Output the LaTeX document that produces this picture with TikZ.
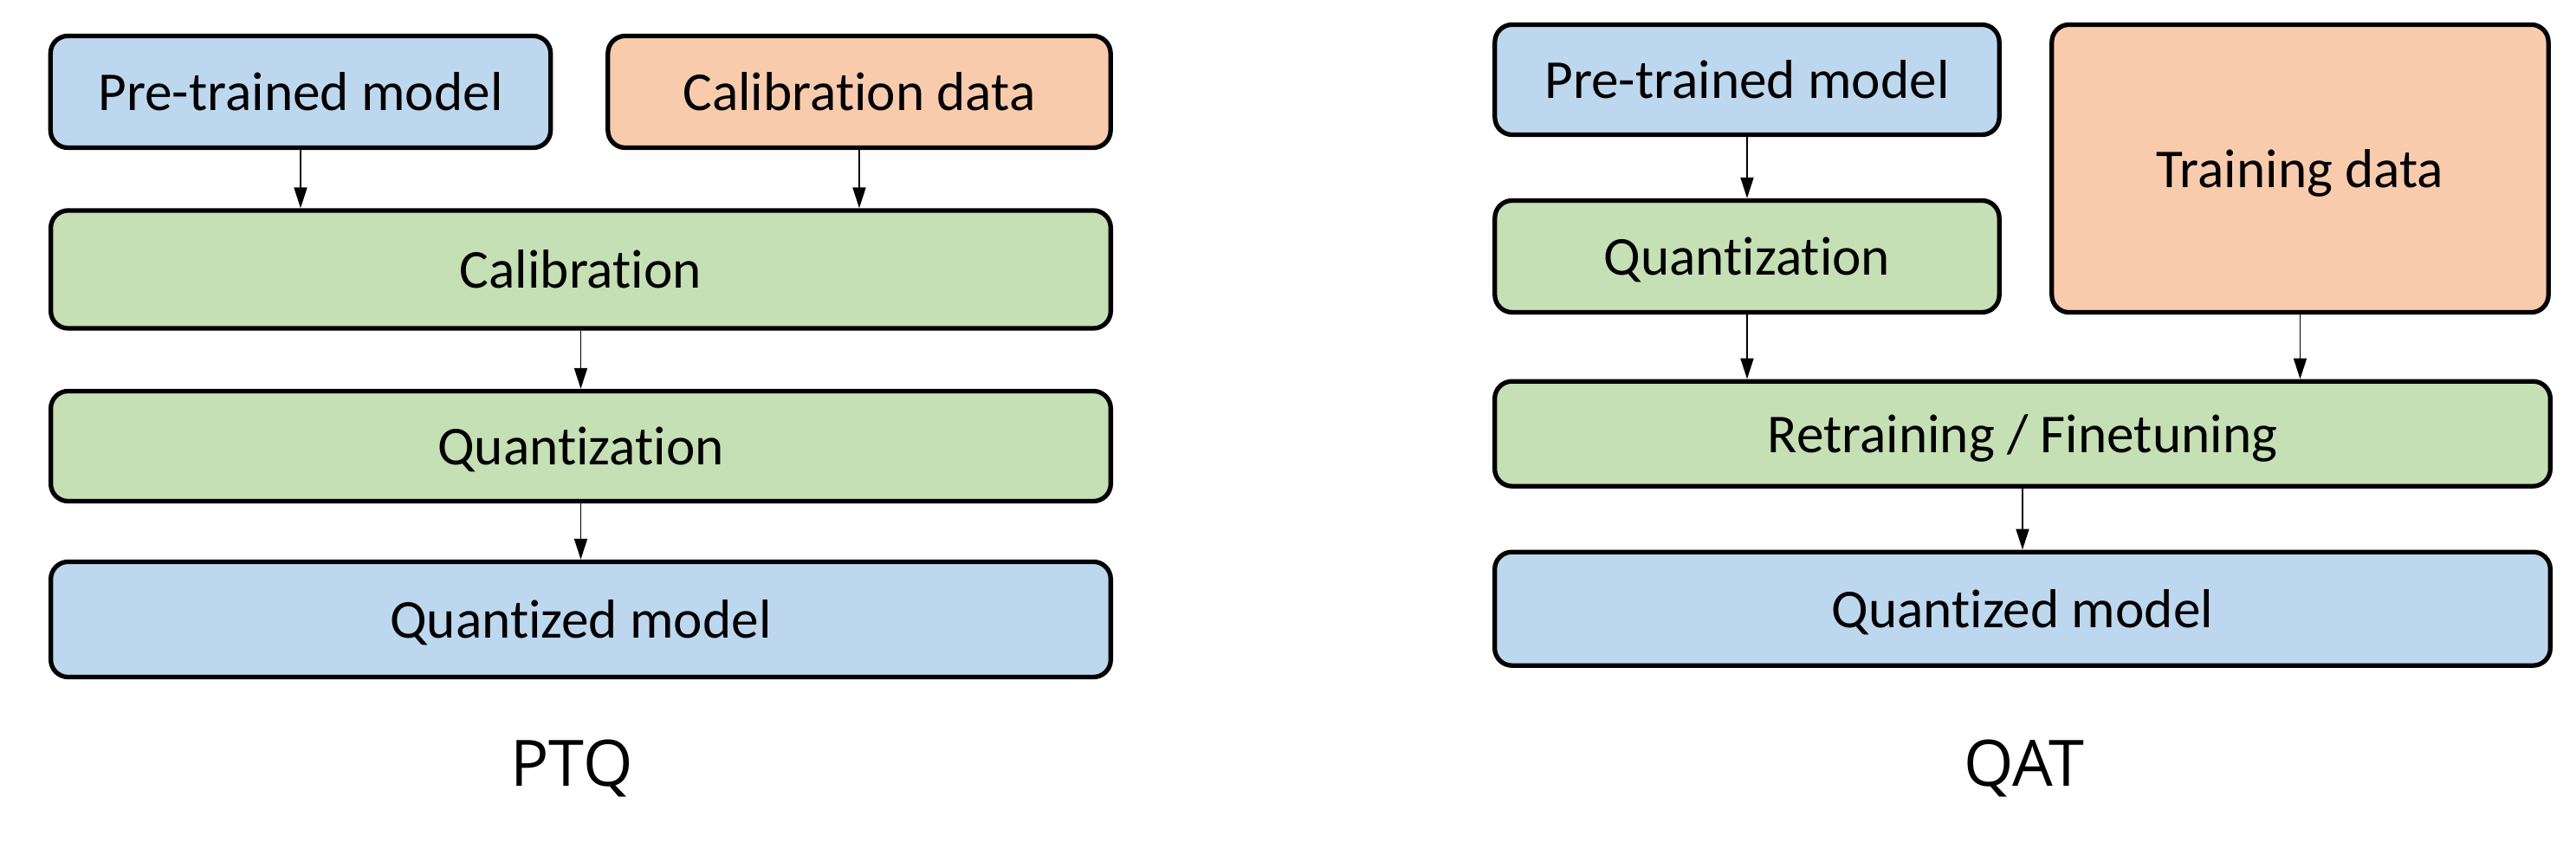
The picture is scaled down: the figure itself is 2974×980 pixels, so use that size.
\documentclass[tikz,border=0pt]{standalone}
\usepackage{fontspec}
\setmainfont[Ligatures=NoCommon]{Carlito}
\newfontfamily\capfont{Open Sans}
\usetikzlibrary{arrows.meta}
\definecolor{bluebox}{HTML}{BDD7EE}
\definecolor{orangebox}{HTML}{F8CBAD}
\definecolor{greenbox}{HTML}{C5E0B4}
\tikzset{
  box/.style={draw=black, line width=1.5pt, rounded corners=0.2cm, font=\fontsize{18}{22}\selectfont, inner sep=0pt, text depth=0pt},
  bbox/.style={box, fill=bluebox},
  obox/.style={box, fill=orangebox},
  gbox/.style={box, fill=greenbox},
  conn/.style={draw=black, line width=0.55pt, -{Triangle[length=0.24cm,width=0.15cm]}},
  caption/.style={font=\capfont\fontsize{21}{25}\selectfont}
}
\begin{document}
\begin{tikzpicture}[x=0.01cm,y=-0.01cm]
\useasboundingbox (0,0) rectangle (2974,980);
% PTQ
\node[bbox, minimum width=5.77cm, minimum height=1.29cm] (pm1) at (347,106) {Pre-trained model};
\node[obox, minimum width=5.80cm, minimum height=1.29cm] (cd) at (992,106) {Calibration data};
\node[gbox, minimum width=12.23cm, minimum height=1.36cm] (cal) at (670.5,311) {Calibration};
\node[gbox, minimum width=12.23cm, minimum height=1.27cm] (q1) at (670.5,515) {Quantization};
\node[bbox, minimum width=12.23cm, minimum height=1.33cm] (qm1) at (670.5,715) {Quantized model};
\node[caption] (ptq) at (660,887) {PTQ};
\draw[conn] (pm1.south) -- (pm1.south |- cal.north);
\draw[conn] (cd.south) -- (cd.south |- cal.north);
\draw[conn] (cal.south) -- (q1.north);
\draw[conn] (q1.south) -- (qm1.north);
% QAT
\node[bbox, minimum width=5.82cm, minimum height=1.27cm] (pm2) at (2017,92) {Pre-trained model};
\node[obox, minimum width=5.73cm, minimum height=3.32cm] (td) at (2655.5,194.5) {Training data};
\node[gbox, minimum width=5.82cm, minimum height=1.29cm] (q2) at (2017,296) {Quantization};
\node[gbox, minimum width=12.18cm, minimum height=1.21cm] (rf) at (2335,500.7) {Retraining / Finetuning};
\node[bbox, minimum width=12.18cm, minimum height=1.31cm] (qm2) at (2335,702.7) {Quantized model};
\node[caption] (qat) at (2337,887) {QAT};
\draw[conn] (pm2.south) -- (q2.north);
\draw[conn] (q2.south) -- (q2.south |- rf.north);
\draw[conn] (td.south) -- (td.south |- rf.north);
\draw[conn] (rf.south) -- (qm2.north);
\end{tikzpicture}
\end{document}
